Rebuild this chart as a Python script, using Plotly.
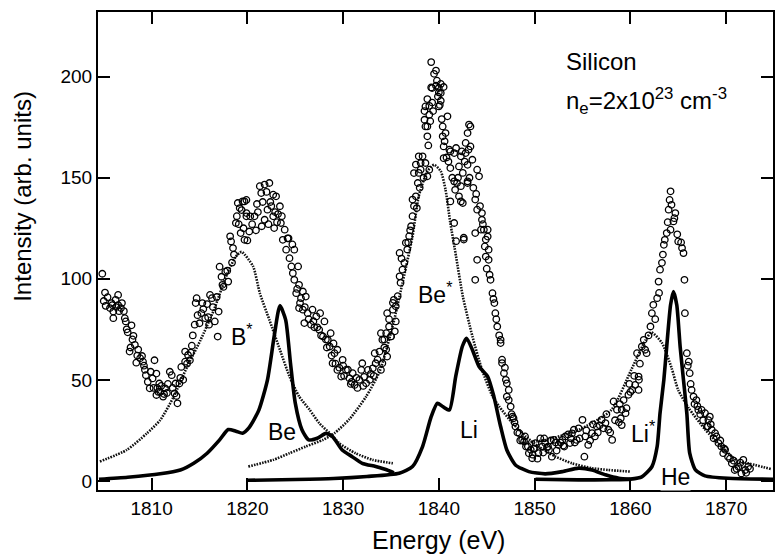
import plotly.graph_objects as go

# ---------------- experimental data (open circles) ----------------
energy_ev = [
    # 1804.5 - 1820.5
    1804.85, 1805.13, 1805.4, 1805.2, 1805.65, 1806.0, 1806.24, 1806.5, 1806.5, 1806.8,
    1806.0, 1807.2, 1807.3, 1807.5, 1808.1, 1808.25, 1807.7, 1808.8, 1809.1, 1809.0,
    1810.3, 1809.4, 1809.6, 1810.1, 1810.5, 1809.8, 1810.5, 1810.8, 1811.2, 1811.4,
    1811.9, 1812.1, 1812.5, 1812.9, 1812.7, 1812.4, 1813.1, 1813.5, 1813.8, 1814.2,
    1814.0, 1813.5, 1814.5, 1814.7, 1814.6, 1815.2, 1815.4, 1815.6, 1816.0, 1816.1,
    1816.3, 1816.6, 1817.0, 1816.9, 1817.1, 1817.3, 1817.7, 1818.0, 1818.3, 1818.5,
    1818.2, 1818.8, 1819.0, 1819.2, 1819.5, 1819.9, 1819.3, 1820.0, 1819.9, 1820.3,
    1805.8, 1806.3, 1806.6, 1807.4, 1808.0, 1807.8, 1808.5, 1808.4, 1809.3, 1810.6,
    1810.9, 1811.6, 1811.0, 1813.3, 1814.1, 1815.0, 1815.8, 1817.5, 1818.6, 1819.6,
    1805.0, 1805.9, 1806.9, 1807.1, 1807.9, 1808.6, 1809.2, 1809.9, 1810.2, 1810.7,
    1811.3, 1811.7, 1812.2, 1812.6, 1813.0, 1813.7, 1814.3, 1814.8, 1815.3, 1815.9,
    1816.4, 1816.8, 1817.4, 1817.9, 1818.4, 1818.9, 1819.1, 1819.4,
    # 1819.5 - 1836
    1819.7, 1819.9, 1820.2, 1819.7, 1820.75, 1821.3, 1821.45, 1821.8, 1822.3, 1822.7,
    1823.0, 1822.1, 1821.8, 1822.7, 1823.4, 1823.5, 1822.8, 1823.9, 1823.7, 1824.05,
    1824.9, 1824.4, 1824.6, 1825.3, 1824.75, 1824.9, 1825.4, 1825.8, 1825.1, 1825.6,
    1826.1, 1825.4, 1825.8, 1826.3, 1826.8, 1827.2, 1825.95, 1826.65, 1827.5, 1828.05,
    1827.9, 1828.4, 1828.7, 1828.6, 1829.1, 1829.4, 1828.9, 1829.4, 1829.95, 1829.8,
    1830.3, 1830.65, 1831.0, 1831.2, 1831.7, 1831.9, 1832.0, 1832.4, 1832.6, 1833.1,
    1833.4, 1833.3, 1833.8, 1833.95, 1834.1, 1834.5, 1835.0, 1834.6, 1835.2, 1835.3,
    1835.5, 1821.0, 1822.5, 1823.2, 1824.2, 1827.0, 1830.0, 1830.9, 1832.2, 1832.9,
    1825.2, 1825.5, 1826.0, 1826.4, 1826.9, 1827.3, 1827.7, 1828.2, 1828.3, 1828.8,
    1829.2, 1829.6, 1830.1, 1830.5, 1830.8, 1831.4, 1831.5, 1832.1, 1832.8, 1833.2,
    1833.6, 1834.3, 1834.8, 1835.4, 1829.0, 1827.6,
    1820.5, 1820.9, 1821.1, 1821.6, 1822.0, 1822.4, 1822.9, 1823.1, 1823.6, 1824.3,
    1824.7, 1821.5, 1822.2,
    # 1833.8 - 1848
    1833.95, 1834.3, 1834.5, 1834.6, 1834.1, 1835.0, 1834.8, 1835.5, 1835.2, 1835.7,
    1836.0, 1835.9, 1836.2, 1836.4, 1835.9, 1836.7, 1836.55, 1836.9, 1837.1, 1837.25,
    1837.4, 1837.6, 1837.25, 1837.8, 1837.9, 1838.1, 1838.3, 1838.6, 1838.8, 1839.0,
    1838.8, 1838.6, 1838.5, 1839.0, 1839.3, 1838.8, 1839.2, 1839.7, 1840.0, 1839.5,
    1839.2, 1839.7, 1840.2, 1840.2, 1840.4, 1840.7, 1840.9, 1840.5, 1841.1, 1841.6,
    1841.8, 1840.5, 1841.2, 1842.3, 1842.1, 1842.5, 1841.9, 1842.8, 1843.0, 1843.3,
    1843.1, 1843.5, 1843.0, 1844.0, 1844.2, 1843.0, 1842.1, 1842.5, 1841.6, 1842.6,
    1841.8, 1843.8, 1844.0, 1844.5, 1844.7, 1845.1, 1845.2, 1844.9, 1843.8, 1844.0,
    1843.8, 1845.4, 1845.6, 1845.8, 1845.9, 1846.1, 1846.45, 1846.6, 1846.8, 1847.1,
    1847.1, 1847.5, 1847.7, 1848.0,
    1839.3, 1840.0, 1839.9, 1840.2, 1840.5, 1838.6, 1840.0, 1839.0, 1838.5, 1838.8,
    1840.4, 1841.2, 1837.9, 1843.15, 1843.3, 1842.8, 1837.6, 1838.1, 1837.4, 1841.2,
    1844.4, 1842.3, 1841.6, 1843.0, 1842.3, 1844.5, 1844.9, 1845.1, 1842.6, 1845.2,
    1836.1, 1836.8, 1837.0, 1837.7, 1838.0, 1838.4, 1838.9, 1839.1, 1839.4, 1839.8,
    1840.1, 1840.3, 1840.6, 1840.8, 1841.0, 1841.4, 1841.7, 1842.0, 1842.4, 1842.7,
    1843.2, 1843.6, 1843.9, 1844.3, 1844.6, 1844.8, 1845.0, 1845.3, 1845.7, 1846.0,
    1846.3, 1846.9, 1847.3, 1847.6, 1847.9, 1848.2,
    # 1846.3 - 1861.6
    1846.6, 1847.0, 1847.3, 1847.8, 1848.4, 1848.7, 1849.1, 1849.4, 1849.75, 1849.6,
    1850.1, 1850.4, 1850.8, 1851.1, 1851.5, 1851.8, 1852.0, 1852.5, 1852.9, 1853.2,
    1853.7, 1854.1, 1854.4, 1855.0, 1855.2, 1855.3, 1855.6, 1856.0, 1856.3, 1856.5,
    1857.0, 1857.4, 1857.7, 1858.1, 1858.25, 1858.6, 1859.1, 1859.0, 1859.1, 1859.5,
    1859.8, 1860.2, 1860.5, 1860.9, 1860.7, 1846.45, 1848.9, 1849.9, 1850.6, 1851.3,
    1852.2, 1853.0, 1853.9, 1854.7, 1856.8, 1857.9, 1858.8,
    1848.5, 1849.0, 1849.3, 1849.8, 1850.0, 1850.3, 1850.9, 1851.0, 1851.4, 1851.7,
    1852.3, 1852.7, 1853.1, 1853.5, 1853.8, 1854.2, 1854.6, 1855.4, 1855.8, 1856.1,
    1856.6, 1857.2, 1857.5, 1858.4, 1858.9, 1859.3, 1859.6, 1860.0, 1860.4, 1859.9,
    # 1860.8 - 1872.5
    1860.86, 1860.86, 1861.2, 1861.55, 1861.7, 1861.4, 1862.1, 1862.25, 1862.4, 1862.8,
    1862.95, 1863.1, 1863.3, 1863.5, 1863.6, 1863.8, 1864.2, 1864.0, 1864.3, 1864.2,
    1864.7, 1864.5, 1865.0, 1865.4, 1865.55, 1865.65, 1865.7, 1865.9, 1866.1, 1866.2,
    1866.4, 1866.6, 1866.9, 1867.1, 1867.45, 1867.8, 1868.15, 1868.3, 1868.5, 1868.85,
    1869.2, 1869.5, 1869.9, 1870.2, 1870.6, 1870.9, 1871.3, 1871.6, 1872.0, 1872.3,
    1871.8, 1868.7, 1868.0, 1869.7,
    1861.0, 1861.9, 1862.6, 1863.0, 1863.4, 1863.9, 1864.1, 1864.6, 1864.9, 1865.3,
    1866.0, 1866.3, 1866.7, 1867.0, 1867.3, 1867.6, 1868.1, 1868.4, 1869.0, 1869.4,
    1869.8, 1870.4, 1870.8, 1871.1, 1871.5, 1872.1, 1872.5,
]
intensity = [
    102.5, 93.2, 90.9, 86.6, 85.5, 83.8, 89.6, 92.0, 87.0, 85.5,
    80.5, 80.5, 78.9, 73.5, 71.8, 67.3, 64.0, 60.7, 59.0, 61.8,
    59.7, 52.3, 49.0, 50.7, 53.1, 45.8, 42.5, 48.2, 41.7, 45.8,
    54.0, 52.3, 48.2, 48.2, 38.4, 43.3, 56.4, 64.0, 62.3, 66.9,
    59.7, 59.0, 77.3, 90.4, 88.0, 83.0, 85.0, 80.5, 77.3, 92.0,
    90.4, 78.9, 83.8, 71.4, 106.0, 101.0, 103.5, 98.6, 118.5, 115.2,
    121.0, 127.6, 137.5, 135.0, 138.3, 139.0, 122.6, 119.0, 130.9, 130.9,
    88.0, 86.0, 84.0, 75.0, 70.0, 66.0, 62.0, 58.5, 55.0, 46.0,
    44.0, 43.5, 47.0, 50.0, 63.5, 78.0, 87.5, 96.0, 112.0, 125.0,
    89.0, 87.0, 88.0, 84.0, 77.0, 65.0, 57.0, 54.0, 46.0, 44.0,
    43.0, 48.0, 46.0, 42.0, 51.0, 58.0, 72.0, 82.0, 88.0, 81.0,
    86.0, 91.0, 97.0, 104.0, 108.0, 131.0, 127.0, 134.0,
    138.3, 132.5, 123.4, 119.3, 130.9, 145.8, 142.4, 146.6, 147.4, 141.6,
    140.8, 134.2, 129.2, 130.9, 135.9, 127.6, 125.1, 124.3, 119.3, 114.4,
    114.4, 110.2, 106.1, 106.1, 102.8, 99.5, 97.0, 93.7, 92.9, 90.4,
    91.2, 85.5, 84.7, 83.0, 84.7, 81.4, 78.1, 77.3, 74.8, 78.9,
    71.5, 69.8, 73.1, 66.5, 63.2, 64.9, 58.2, 54.9, 59.9, 51.6,
    54.9, 50.8, 53.3, 47.5, 50.0, 54.9, 58.2, 48.3, 54.9, 55.7,
    58.2, 63.2, 64.0, 54.9, 69.8, 73.1, 71.5, 83.0, 84.7, 89.6,
    78.9, 137.0, 136.0, 132.0, 120.0, 76.0, 57.0, 49.0, 51.5, 53.0,
    95.0, 88.0, 86.0, 80.0, 79.0, 76.0, 72.0, 70.0, 66.0, 62.0,
    58.0, 56.0, 52.0, 55.0, 48.0, 51.0, 46.0, 47.0, 50.0, 52.0,
    60.0, 66.0, 80.0, 74.0, 68.0, 83.0,
    127.0, 124.0, 133.0, 138.0, 143.0, 138.0, 133.0, 128.0, 131.0, 120.0,
    117.0, 126.0, 127.0,
    73.1, 70.0, 65.0, 61.5, 58.2, 71.5, 76.4, 86.4, 88.1, 91.4,
    98.0, 101.2, 104.5, 107.9, 112.8, 114.5, 117.8, 121.1, 126.0, 131.0,
    136.0, 140.8, 139.2, 147.4, 152.4, 157.3, 160.6, 157.3, 150.7, 154.0,
    170.5, 175.4, 183.0, 185.6, 187.2, 188.9, 194.7, 195.5, 192.2, 201.4,
    207.2, 203.0, 196.4, 188.1, 175.4, 172.1, 180.4, 165.5, 163.9, 162.2,
    164.7, 159.7, 154.8, 160.6, 155.6, 152.4, 147.4, 167.2, 172.1, 175.4,
    163.9, 158.9, 156.4, 154.0, 150.7, 147.4, 140.8, 137.5, 127.6, 120.3,
    118.6, 139.2, 134.2, 129.2, 124.3, 120.9, 114.4, 111.0, 122.6, 109.4,
    99.5, 99.5, 92.9, 88.0, 83.0, 76.4, 69.8, 60.0, 53.3, 48.3,
    41.7, 36.8, 31.8, 26.9,
    194.4, 194.4, 190.2, 191.9, 194.9, 185.3, 185.3, 181.2, 178.7, 175.4,
    170.5, 163.0, 160.6, 176.3, 165.5, 162.2, 156.5, 154.0, 152.3, 138.3,
    124.3, 145.8, 148.2, 148.2, 138.3, 132.5, 119.4, 124.3, 119.4, 109.4,
    110.0, 118.0, 124.0, 135.0, 145.0, 150.0, 166.0, 178.0, 183.0, 198.0,
    186.0, 179.0, 168.0, 160.0, 158.0, 150.0, 144.0, 150.0, 163.0, 158.0,
    150.0, 145.0, 142.0, 136.0, 127.0, 116.0, 105.0, 102.0, 90.0, 80.0,
    72.0, 56.0, 45.0, 33.0, 29.0, 24.0,
    58.3, 50.0, 40.0, 31.0, 23.6, 20.3, 17.0, 13.7, 11.2, 15.4,
    18.7, 13.7, 17.0, 18.7, 15.4, 12.0, 20.3, 17.8, 20.3, 22.0,
    18.7, 25.3, 20.3, 30.2, 12.0, 22.0, 17.8, 23.6, 22.0, 26.9,
    30.2, 28.6, 25.3, 20.3, 39.3, 35.2, 35.2, 31.0, 27.6, 33.5,
    42.6, 45.0, 47.5, 50.0, 63.2, 68.2, 19.5, 16.0, 21.0, 16.5,
    19.0, 17.5, 23.5, 21.0, 27.5, 24.0, 29.0,
    20.0, 22.0, 17.0, 13.0, 16.0, 11.0, 14.0, 21.0, 17.0, 20.0,
    15.0, 19.0, 17.0, 23.0, 21.0, 19.0, 26.0, 25.0, 20.0, 28.0,
    24.0, 26.0, 33.0, 30.0, 38.0, 40.0, 36.0, 44.0, 52.0, 48.0,
    51.6, 45.0, 66.5, 64.9, 63.2, 69.8, 76.4, 83.0, 87.1, 90.4,
    98.6, 104.5, 107.9, 116.8, 119.3, 122.6, 124.3, 134.2, 136.6, 143.3,
    132.5, 128.4, 118.5, 115.2, 112.7, 99.5, 83.0, 63.2, 59.0, 53.3,
    45.0, 41.7, 40.0, 35.1, 35.1, 33.5, 30.1, 31.8, 25.3, 23.6,
    18.7, 17.0, 15.4, 12.0, 8.7, 5.4, 7.0, 3.7, 5.4, 7.0,
    10.4, 21.1, 26.9, 13.7,
    58.0, 72.0, 80.0, 93.0, 112.0, 128.0, 139.0, 130.0, 122.0, 118.0,
    57.0, 48.0, 38.0, 37.0, 33.0, 30.0, 27.0, 28.0, 22.0, 20.0,
    16.0, 11.0, 10.0, 6.0, 9.0, 4.0, 6.0,
]

# ---------------- fitted profiles (dotted) ----------------
bstar_e = [1804.6, 1807.4, 1809.5, 1810.9, 1812.3, 1813.7, 1815.1, 1816.5, 1817.9, 1818.8,
           1819.4, 1820.6, 1821.3, 1822.3, 1823.4, 1824.4, 1825.4, 1826.5, 1827.5, 1828.6,
           1829.6, 1831.3, 1833.1, 1835.2]
bstar_i = [9.6, 15.3, 23.5, 30.1, 41.6, 56.4, 69.6, 84.5, 102.6, 111.0,
           113.3, 106.1, 92.9, 79.7, 64.9, 51.7, 41.8, 35.2, 28.6, 23.6,
           18.6, 13.7, 10.4, 8.7]

bestar_e = [1820.1, 1822.7, 1824.4, 1826.1, 1827.9, 1829.1, 1830.65, 1832.4, 1833.8, 1835.2,
            1836.2, 1837.25, 1837.9, 1838.8, 1839.5, 1840.2, 1840.7, 1841.2, 1841.8, 1842.5,
            1843.5, 1844.5, 1845.6, 1846.3, 1847.7, 1849.1, 1850.4, 1852.2, 1853.9, 1856.0,
            1857.7, 1860.0]
bestar_i = [7.1, 10.4, 13.7, 17.0, 20.3, 23.6, 30.5, 41.7, 54.0, 77.0,
            97.9, 121.0, 140.8, 153.2, 156.4, 153.2, 144.0, 127.6, 111.0, 91.4,
            71.6, 55.1, 41.9, 36.8, 28.6, 21.9, 17.0, 12.0, 8.7, 6.3,
            5.4, 4.6]

listar_e = [1848.7, 1851.2, 1854.6, 1858.0, 1860.1, 1861.6, 1862.2, 1863.3, 1864.3, 1865.0,
            1866.1, 1867.8, 1869.5, 1871.3, 1872.0, 1874.75]
listar_i = [18.8, 20.3, 25.2, 35.0, 55.0, 69.8, 73.5, 68.3, 56.0, 45.0,
            36.0, 25.5, 17.0, 9.5, 9.0, 5.8]

# ---------------- calculated spectra (solid) ----------------
be_e = [1804.5, 1807.5, 1810.9, 1813.0, 1814.4, 1815.8, 1817.1, 1818.0, 1818.8, 1819.5,
        1820.2, 1821.2, 1822.1, 1822.8, 1823.4, 1824.0, 1824.5, 1825.0, 1825.7, 1826.4,
        1827.3, 1828.2, 1828.9, 1829.9, 1830.95, 1832.0, 1833.4, 1834.6, 1835.3]
be_i = [0.8, 1.8, 3.5, 5.4, 8.7, 13.7, 20.3, 25.4, 24.6, 23.6,
        26.5, 35.0, 50.0, 71.5, 86.7, 79.7, 58.4, 38.6, 25.3, 20.3,
        21.1, 23.5, 21.9, 15.3, 12.0, 8.7, 7.1, 5.4, 4.0]

li_e = [1820.0, 1825.0, 1829.0, 1832.5, 1835.86, 1837.25, 1838.3, 1839.2, 1839.85, 1840.4,
        1841.1, 1841.76, 1842.45, 1842.9, 1843.5, 1844.2, 1845.1, 1845.75, 1846.45, 1847.1,
        1848.0, 1849.4, 1851.1, 1852.9, 1854.6, 1856.0, 1857.4, 1858.8, 1860.0]
li_i = [0.3, 0.7, 1.2, 2.2, 3.8, 7.1, 17.0, 31.8, 38.4, 36.8,
        35.1, 51.6, 66.5, 70.6, 64.9, 56.6, 51.6, 41.7, 26.9, 15.3,
        7.9, 4.6, 3.5, 4.6, 6.3, 5.4, 3.0, 1.3, 0.8]

he_e = [1850.1, 1854.6, 1858.0, 1860.0, 1861.2, 1862.25, 1862.8, 1863.1, 1863.5, 1863.8,
        1864.2, 1864.5, 1864.85, 1865.2, 1865.55, 1865.9, 1866.2, 1866.8, 1867.8, 1870.2,
        1874.9]
he_i = [0.8, 0.5, 0.6, 0.9, 2.0, 7.0, 17.0, 33.5, 50.0, 66.5,
        87.0, 93.7, 87.0, 66.5, 50.0, 33.5, 13.7, 5.4, 2.5, 1.3,
        0.8]

x_ticks = [1810, 1820, 1830, 1840, 1850, 1860, 1870]
y_ticks = [0, 50, 100, 150, 200]

FONT = "Liberation Sans, Arial, sans-serif"

fig = go.Figure()

dot_style = dict(color="#111111", width=2.6, dash="1.6px,1.2px")
for ex, iy in [(bstar_e, bstar_i), (bestar_e, bestar_i), (listar_e, listar_i)]:
    fig.add_trace(go.Scatter(x=ex, y=iy, mode="lines",
                             line=dict(shape="spline", smoothing=0.6, **dot_style),
                             showlegend=False, hoverinfo="skip"))

for ex, iy in [(be_e, be_i), (li_e, li_i), (he_e, he_i)]:
    fig.add_trace(go.Scatter(x=ex, y=iy, mode="lines",
                             line=dict(color="black", width=3.6, shape="spline", smoothing=0.6),
                             showlegend=False, hoverinfo="skip"))

fig.add_trace(go.Scatter(x=energy_ev, y=intensity, mode="markers",
                         marker=dict(symbol="circle-open", size=6.5, color="black",
                                     line=dict(width=1.3, color="black")),
                         showlegend=False))

ann_font = dict(family=FONT, size=23, color="black")
labels = [
    ("B<sup>*</sup>", 1818.2, 72, None),
    ("Be", 1822.0, 24, None),
    ("Be<sup>*</sup>", 1837.7, 93, None),
    ("Li", 1842.1, 25, None),
    ("Li<sup>*</sup>", 1860.0, 24, None),
    ("He", 1863.1, 2, "white"),
]
annotations = []
for txt, xx, yy, bg in labels:
    a = dict(text=txt, x=xx, y=yy, xref="x", yref="y", xanchor="left", yanchor="middle",
             showarrow=False, font=ann_font, borderpad=0)
    if bg:
        a["bgcolor"] = bg
    annotations.append(a)

annotations.append(dict(text="Silicon", x=1853.05, y=207.5, xref="x", yref="y",
                        xanchor="left", yanchor="middle", showarrow=False,
                        font=dict(family=FONT, size=24, color="black")))
annotations.append(dict(text="n<sub>e</sub>=2x10<sup>23</sup> cm<sup>-3</sup>", x=1853.05, y=188,
                        xref="x", yref="y", xanchor="left", yanchor="middle", showarrow=False,
                        font=dict(family=FONT, size=24, color="black")))
annotations.append(dict(text="Energy (eV)", x=1840.0, y=-0.105, xref="x", yref="paper",
                        xanchor="center", yanchor="middle", showarrow=False,
                        font=dict(family=FONT, size=25, color="black")))
annotations.append(dict(text="Intensity (arb. units)", x=-0.111, y=140.6, xref="paper", yref="y",
                        xanchor="center", yanchor="middle", textangle=-90, showarrow=False,
                        font=dict(family=FONT, size=24, color="black")))

axis_common = dict(showline=True, linewidth=2, linecolor="black", mirror="ticks",
                   ticks="inside", ticklen=12, tickwidth=1.5, tickcolor="black",
                   showgrid=False, zeroline=False,
                   tickfont=dict(family=FONT, size=19, color="black"))

fig.update_layout(
    width=775, height=556,
    margin=dict(l=98, r=0, t=12, b=66),
    paper_bgcolor="white", plot_bgcolor="white",
    xaxis=dict(range=[1804.4, 1874.9], tickvals=x_ticks, **axis_common),
    yaxis=dict(range=[-4.5, 232], tickvals=y_ticks, **axis_common),
    annotations=annotations,
    showlegend=False,
)

fig.write_html("out.html")
